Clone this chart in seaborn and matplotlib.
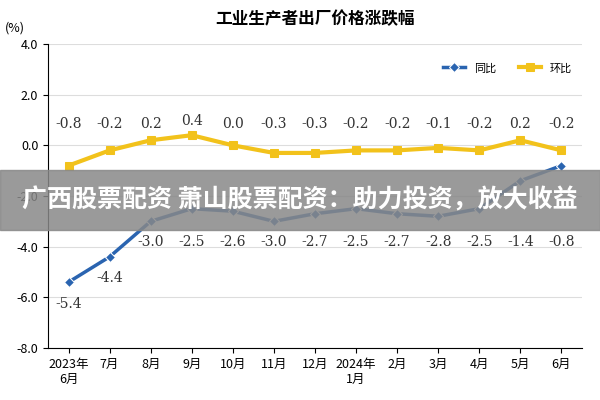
import matplotlib
matplotlib.use("Agg")
import matplotlib.pyplot as plt
import seaborn as sns
import pandas as pd

plt.rcParams["font.family"] = "Noto Sans CJK SC"
plt.rcParams["axes.unicode_minus"] = False

months = ["2023年\n6月", "7月", "8月", "9月", "10月", "11月", "12月", "2024年\n1月", "2月", "3月", "4月", "5月", "6月"]
yoy = [-5.4, -4.4, -3.0, -2.5, -2.6, -3.0, -2.7, -2.5, -2.7, -2.8, -2.5, -1.4, -0.8]
mom = [-0.8, -0.2, 0.2, 0.4, 0.0, -0.3, -0.3, -0.2, -0.2, -0.1, -0.2, 0.2, -0.2]

df = pd.DataFrame({"x": range(len(months)), "同比": yoy, "环比": mom})

fig, ax = plt.subplots(figsize=(6, 4), dpi=100)
fig.subplots_adjust(left=0.08, right=0.97, top=0.89, bottom=0.13)
sns.lineplot(data=df, x="x", y="同比", ax=ax, color="#2a64b0", lw=2.5, marker="D", markersize=5, label="同比")
sns.lineplot(data=df, x="x", y="环比", ax=ax, color="#f2c21b", lw=3, marker="s", markersize=6, markeredgecolor="#f2c21b", label="环比")

for i, v in enumerate(yoy):
    off = -0.85 if i < 2 else -0.8
    ax.text(i, v + off if i < 3 else -3.8, f"{v:.1f}", ha="center", va="center", fontsize=10, family="DejaVu Serif", color="#333")
for i, v in enumerate(mom):
    ax.text(i, 0.95 if v > 0.25 else 0.85, f"{v:.1f}" if v != 0 else "0.0", ha="center", va="center", fontsize=10, family="DejaVu Serif", color="#333")

ax.set_xlim(-0.5, len(months) - 0.5)
ax.set_ylim(-8, 4)
ax.set_yticks([-8, -6, -4, -2, 0, 2, 4])
ax.set_yticklabels([f"{t:.1f}" for t in [-8, -6, -4, -2, 0, 2, 4]], fontsize=9)
ax.set_xticks(range(len(months)))
ax.set_xticklabels(months, fontsize=9)
ax.set_xlabel("")
ax.set_ylabel("")
ax.grid(axis="y", color="#dddddd", lw=0.8)
for s in ["top", "right"]:
    ax.spines[s].set_visible(False)
ax.set_title("工业生产者出厂价格涨跌幅", fontsize=12, fontweight="bold", pad=14)
ax.text(-0.08, 1.04, "(%)", transform=ax.transAxes, fontsize=9)
ax.legend(loc="upper right", frameon=False, ncol=2, fontsize=8, bbox_to_anchor=(1.0, 0.97))

fig.patches.append(plt.Rectangle((0, 0.425), 1, 0.15, transform=fig.transFigure, color="#888888", alpha=0.85, zorder=10))
fig.text(0.5, 0.5, "广西股票配资 萧山股票配资：助力投资，放大收益", ha="center", va="center", color="white", fontsize=18, fontweight="bold", zorder=11)

fig.savefig("out.png", dpi=100)
